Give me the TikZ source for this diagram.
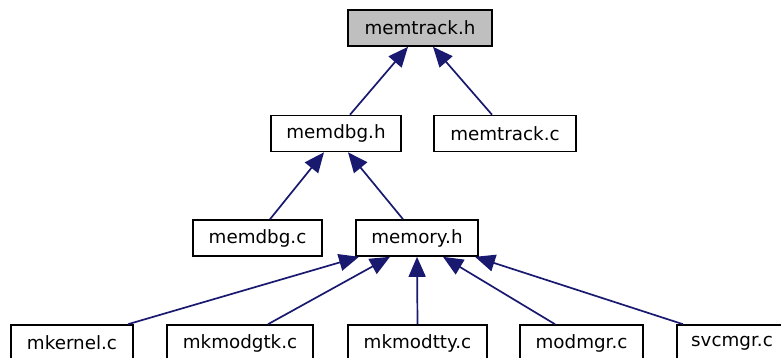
\documentclass[tikz,border=0pt]{standalone}
\usepackage{fontspec}
\setmainfont{DejaVu Sans}
\usetikzlibrary{arrows.meta,calc}
\definecolor{edgeblue}{HTML}{191970}
\definecolor{hdrgrey}{HTML}{BFBFBF}
\tikzset{
  box/.style={draw=black, line width=1.6pt, rectangle, minimum height=36pt, inner sep=0pt, font=\fontsize{18.3}{18.3}\selectfont, fill=white},
  dep/.style={draw=edgeblue, line width=1.7pt, -{Triangle[length=20pt,width=17pt]}}
}
\begin{document}
\begin{tikzpicture}[x=1pt,y=1pt]
\useasboundingbox (0,0) rectangle (781,-357);
\node[box, fill=hdrgrey, minimum width=144pt] (mth) at (420,-28) {memtrack.h};
\node[box, minimum width=130pt] (mdh) at (336,-133.5) {memdbg.h};
\node[box, minimum width=142pt] (mtc) at (505,-133.5) {memtrack.c};
\node[box, minimum width=129pt] (mdc) at (257.5,-238) {memdbg.c};
\node[box, minimum width=122pt] (mem) at (417,-238) {memory.h};
\node[box, minimum width=122pt] (mk) at (72,-343) {mkernel.c};
\node[box, minimum width=146pt] (mg) at (240,-343) {mkmodgtk.c};
\node[box, minimum width=139pt] (mt) at (417.5,-343) {mkmodtty.c};
\node[box, minimum width=123pt] (mm) at (581.5,-343) {modmgr.c};
\node[box, minimum width=110pt] (sv) at (732,-343) {svcmgr.c};
% edges
\draw[dep] ([xshift=14pt]mdh.north) -- ([xshift=-12pt]mth.south);
\draw[dep] ([xshift=-13pt]mtc.north) -- ([xshift=13pt]mth.south);
\draw[dep] ([xshift=12.5pt]mdc.north) -- ([xshift=-12pt]mdh.south);
\draw[dep] ([xshift=-14pt]mem.north) -- ([xshift=12pt]mdh.south);
\draw[dep] ([xshift=56pt]mk.north) -- ([xshift=-58pt]mem.south);
\draw[dep] ([xshift=28pt]mg.north) -- ([xshift=-27pt]mem.south);
\draw[dep] (mt.north) -- (mem.south);
\draw[dep] ([xshift=-26.5pt]mm.north) -- ([xshift=26pt]mem.south);
\draw[dep] ([xshift=-49pt]sv.north) -- ([xshift=58pt]mem.south);
\end{tikzpicture}
\end{document}
